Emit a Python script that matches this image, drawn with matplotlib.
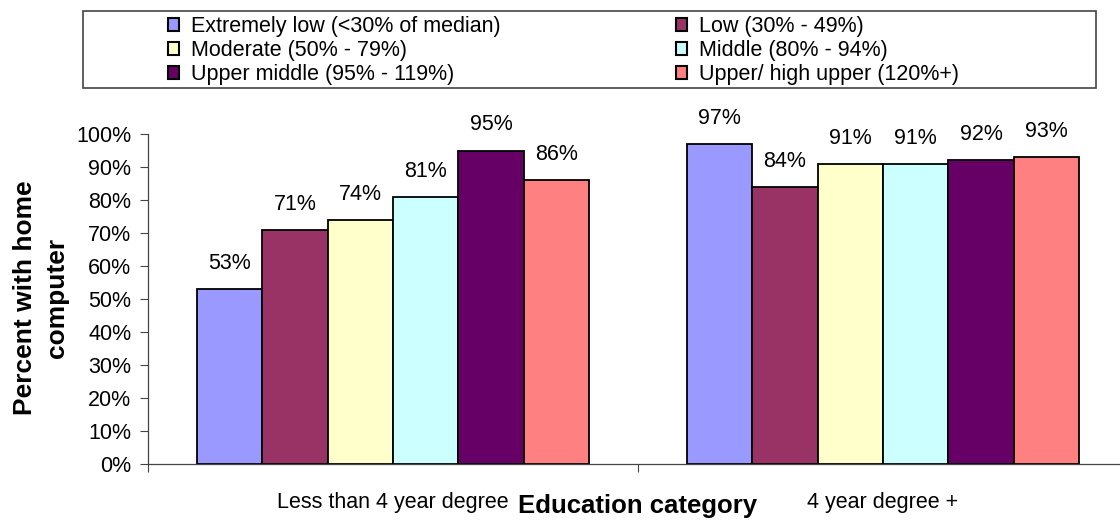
import matplotlib
matplotlib.use("Agg")
import matplotlib.pyplot as plt
from matplotlib.patches import Rectangle, Patch
import numpy as np

categories = ["Less than 4 year degree", "4 year degree +"]
series_names = ["Extremely low (<30% of median)", "Low (30% - 49%)",
                "Moderate (50% - 79%)", "Middle (80% - 94%)",
                "Upper middle (95% - 119%)", "Upper/ high upper (120%+)"]
values = [
    [0.53, 0.97],
    [0.71, 0.84],
    [0.74, 0.91],
    [0.81, 0.91],
    [0.95, 0.92],
    [0.86, 0.93],
]
colors = ["#9999FF", "#993366", "#FFFFCC", "#CCFFFF", "#660066", "#FF8080"]
yticks = [0, 0.1, 0.2, 0.3, 0.4, 0.5, 0.6, 0.7, 0.8, 0.9, 1.0]
ytick_labels = ["0%", "10%", "20%", "30%", "40%", "50%", "60%", "70%", "80%", "90%", "100%"]

FONT = ["Liberation Sans", "DejaVu Sans"]
FS = 15.5

W, H = 1120, 520
fig = plt.figure(figsize=(W / 100, H / 100), dpi=100)
ax = fig.add_axes([148 / W, (H - 464) / H, 980 / W, 330 / H])

n = len(series_names)
group_w = 0.8
bw = group_w / n
x = np.arange(len(categories))
for i in range(n):
    pos = x - group_w / 2 + bw * (i + 0.5)
    ax.bar(pos, values[i], width=bw, color=colors[i], edgecolor="black",
           linewidth=1.3, label=series_names[i])
    for xp, v in zip(pos, values[i]):
        ax.annotate(f"{round(v * 100):.0f}%", (xp, v), xytext=(0, 14.5),
                    textcoords="offset points", ha="center", va="baseline",
                    fontsize=FS, family=FONT, clip_on=False)

ax.set_xlim(-0.5, len(categories) - 0.5)
ax.set_ylim(0, 1.0)
ax.set_yticks(yticks)
ax.set_yticklabels(ytick_labels, family=FONT, fontsize=FS)
ax.tick_params(axis="y", direction="out", length=6, width=0.8, color="#444444", pad=6)

ax.set_xticks(x)
ax.set_xticklabels(categories, family=FONT, fontsize=FS)
ax.tick_params(axis="x", which="major", length=0, pad=20.5)
ax.set_xticks(np.arange(len(categories) + 1) - 0.5, minor=True)
ax.tick_params(axis="x", which="minor", direction="out", length=6, width=0.8, color="#444444")

for s in ["top", "right"]:
    ax.spines[s].set_visible(False)
for s in ["left", "bottom"]:
    ax.spines[s].set_color("#444444")
    ax.spines[s].set_linewidth(0.9)

fig.text(638 / W, 1 - 513 / H, "Education category", ha="center", va="baseline",
         fontsize=18.5, fontweight="bold", family=FONT)
fig.text(41 / W, 1 - 298 / H, "Percent with home\ncomputer", ha="center", va="center",
         rotation=90, fontsize=19, fontweight="bold", family=FONT, linespacing=1.38)

# legend frame
fig.patches.append(Rectangle((83 / W, 1 - 88 / H), (1096 - 83) / W, (88 - 11) / H,
                             transform=fig.transFigure, fill=False,
                             edgecolor="#444444", linewidth=1.2))

handles = [Patch(facecolor=colors[i], edgecolor="black", linewidth=1.5,
                 label=series_names[i]) for i in range(n)]
for col, xpx in [(0, 168), (1, 676)]:
    hs = handles[col::2]
    fig.legend(handles=hs, labels=[h.get_label() for h in hs],
               loc="upper left", bbox_to_anchor=(xpx / W, 1 - 16 / H),
               frameon=False, prop={"family": FONT, "size": FS},
               handlelength=0.52, handleheight=0.52, handletextpad=0.55,
               labelspacing=0.14, borderpad=0, borderaxespad=0)

fig.savefig("out.png", dpi=100)
